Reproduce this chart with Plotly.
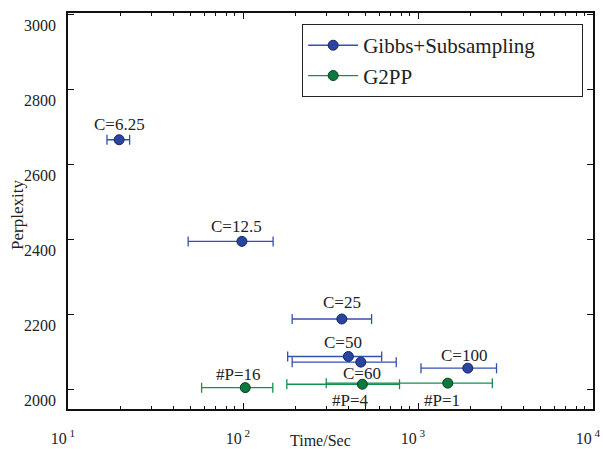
import math
import plotly.graph_objects as go

# ---- data ----
gibbs_labels = ["C=6.25", "C=12.5", "C=25", "C=50", "C=60", "C=100"]
gibbs_time = [19.6, 98.6, 367, 400, 471, 1925]
gibbs_time_err = [2.9, 50, 176, 220, 280, 885]
gibbs_perp = [2665, 2394, 2187, 2087, 2072, 2056]

g2pp_labels = ["#P=16", "#P=4", "#P=1"]
g2pp_time = [103, 481, 1479]
g2pp_time_err = [45, 303, 1180]
g2pp_perp = [2004, 2013, 2016]

x_tick_vals = [10, 100, 1000, 10000]
x_tick_text = ["10<sup> 1</sup>", "10<sup> 2</sup>", "10<sup> 3</sup>", "10<sup> 4</sup>"]
y_tick_vals = [2000, 2200, 2400, 2600, 2800, 3000]

# ---- styles ----
FONT = "Liberation Serif, Times New Roman, serif"
TXT = "#222"
BLUE_FILL = "#2a45a0"
BLUE_EDGE = "#17275e"
BLUE_BAR = "#3450ad"
GREEN_FILL = "#0b7a3c"
GREEN_EDGE = "#0a3f22"
GREEN_BAR = "#14904c"
PAD = "\u00a0" * 8

fig = go.Figure()

fig.add_trace(go.Scatter(
    x=gibbs_time, y=gibbs_perp, mode="markers", showlegend=False,
    marker=dict(size=10, color=BLUE_FILL, line=dict(color=BLUE_EDGE, width=1)),
    error_x=dict(type="data", array=gibbs_time_err, symmetric=True,
                 color=BLUE_BAR, thickness=1.3, width=5),
))
fig.add_trace(go.Scatter(
    x=g2pp_time, y=g2pp_perp, mode="markers", showlegend=False,
    marker=dict(size=10, color=GREEN_FILL, line=dict(color=GREEN_EDGE, width=1)),
    error_x=dict(type="data", array=g2pp_time_err, symmetric=True,
                 color=GREEN_BAR, thickness=1.3, width=5),
))

# legend entries
fig.add_trace(go.Scatter(
    x=[None], y=[None], mode="lines+markers", name="Gibbs+Subsampling" + PAD,
    marker=dict(size=10, color=BLUE_FILL, line=dict(color=BLUE_EDGE, width=1)),
    line=dict(color=BLUE_BAR, width=1.3),
))
fig.add_trace(go.Scatter(
    x=[None], y=[None], mode="lines+markers", name="G2PP",
    marker=dict(size=10, color=GREEN_FILL, line=dict(color=GREEN_EDGE, width=1)),
    line=dict(color=GREEN_BAR, width=1.3),
))

# point labels (offsets in pixels)
gibbs_shift = [(0, 15), (-5, 15), (0, 17), (-5, 14), (1, -11), (-4, 13)]
g2pp_shift = [(-7, 13), (-12, -16), (-6, -17)]
annotations = []
for lab, xv, yv, (dx, dy) in zip(gibbs_labels, gibbs_time, gibbs_perp, gibbs_shift):
    annotations.append(dict(x=math.log10(xv), y=yv, xref="x", yref="y", text=lab,
                            showarrow=False, xshift=dx, yshift=dy,
                            font=dict(family=FONT, size=17, color=TXT)))
for lab, xv, yv, (dx, dy) in zip(g2pp_labels, g2pp_time, g2pp_perp, g2pp_shift):
    annotations.append(dict(x=math.log10(xv), y=yv, xref="x", yref="y", text=lab,
                            showarrow=False, xshift=dx, yshift=dy,
                            font=dict(family=FONT, size=17, color=TXT)))
annotations.append(dict(x=0, y=0.49, xref="paper", yref="paper", text="Perplexity",
                        textangle=-90, showarrow=False, xshift=-50, xanchor="center",
                        yanchor="middle", font=dict(family=FONT, size=17, color=TXT)))
annotations.append(dict(x=0.48, y=0, xref="paper", yref="paper", text="Time/Sec",
                        showarrow=False, yshift=-31, xanchor="center",
                        yanchor="middle", font=dict(family=FONT, size=16, color=TXT)))

fig.update_layout(
    width=603, height=449,
    margin=dict(l=68, r=10, t=13, b=40, autoexpand=False),
    paper_bgcolor="white", plot_bgcolor="white",
    font=dict(family=FONT, size=16, color=TXT),
    annotations=annotations,
    legend=dict(x=0.446, y=0.972, xanchor="left", yanchor="top",
                bordercolor="#222", borderwidth=1, bgcolor="white",
                font=dict(family=FONT, size=21, color=TXT),
                itemwidth=50, tracegroupgap=0),
)
fig.update_xaxes(
    type="log", range=[1, 4], showgrid=False, zeroline=False, automargin=False,
    showline=True, linecolor="#111", linewidth=1.5, mirror="ticks",
    ticks="inside", ticklen=6, tickcolor="#111",
    tickvals=x_tick_vals, ticktext=x_tick_text,
    ticklabelstandoff=14, ticklabelshift=-5,
    tickfont=dict(family=FONT, size=16, color=TXT),
    minor=dict(ticks="inside", ticklen=3, tickcolor="#111", dtick="D1", showgrid=False),
)
fig.update_yaxes(
    range=[1947, 3003], showgrid=False, zeroline=False, automargin=False,
    showline=True, linecolor="#111", linewidth=1.5, mirror="ticks",
    ticks="inside", ticklen=6, tickcolor="#111",
    tickvals=y_tick_vals, ticklabelstandoff=7, ticklabelshift=11,
    tickfont=dict(family=FONT, size=16, color=TXT),
)

fig.write_html("out.html")
